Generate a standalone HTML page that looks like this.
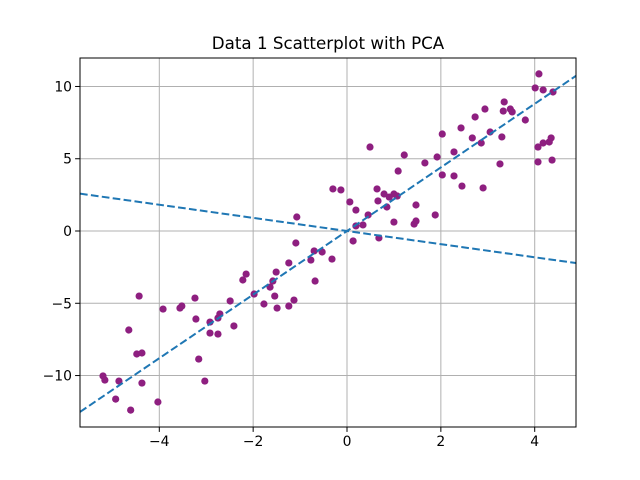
<!DOCTYPE html>
<html><head><meta charset="utf-8"><style>
body{margin:0;background:#fff;}
svg{display:block;font-family:"DejaVu Sans","Liberation Sans",sans-serif;}
</style></head><body>
<svg id="chart" width="640" height="480" viewBox="0 0 640 480">
<defs><clipPath id="clip"><rect x="80" y="58" width="496" height="369"/></clipPath></defs>
<rect x="0" y="0" width="640" height="480" fill="#fff"/>
<text x="328" y="49" text-anchor="middle" font-size="16.7" fill="#000">Data 1 Scatterplot with PCA</text>
<g id="grid"></g>
<g id="marks" clip-path="url(#clip)"></g>
<g id="lines" clip-path="url(#clip)"></g>
<rect x="80" y="58" width="496" height="369" fill="none" stroke="#000" stroke-width="1"/>
<g id="ticks"></g>
</svg>
<script>
const xs=[-5.20,-5.16,-4.86,-4.93,-4.61,-4.37,-4.65,-4.43,-4.48,-4.37,-4.03,-3.92,-3.56,-3.52,-3.24,-3.22,-3.16,-3.03,-2.92,-2.92,-2.75,-2.75,-2.71,-2.49,-2.41,-2.22,-2.15,-1.98,-1.77,-1.64,-1.58,-1.51,-1.54,-1.49,-1.24,-1.24,-1.13,-1.09,-1.07,-0.77,-0.70,-0.68,-0.53,-0.32,-0.30,-0.13,0.06,0.19,0.13,0.19,0.34,0.45,0.49,0.64,0.66,0.68,0.79,0.85,0.90,1.00,1.07,1.00,1.09,1.22,1.43,1.47,1.47,1.66,1.88,1.92,2.03,2.03,2.28,2.28,2.45,2.67,2.43,2.73,2.86,2.94,3.05,3.26,3.30,3.33,3.35,3.48,3.52,2.90,3.80,4.01,4.09,4.18,4.39,4.07,4.18,4.31,4.35,4.07,4.37];
const ys=[-10.03,-10.31,-10.38,-11.63,-12.39,-10.52,-6.85,-4.50,-8.51,-8.44,-11.83,-5.40,-5.33,-5.19,-4.64,-6.09,-8.86,-10.38,-6.30,-7.06,-7.13,-6.02,-5.74,-4.84,-6.57,-3.39,-2.98,-4.36,-5.05,-3.88,-3.46,-2.84,-4.50,-5.33,-2.21,-5.19,-4.78,-0.83,0.97,-2.01,-1.38,-3.46,-1.45,-1.94,2.91,2.84,2.01,1.45,-0.69,0.35,0.42,1.11,5.81,2.91,2.08,-0.48,2.56,1.66,2.35,2.56,2.42,0.62,4.15,5.26,0.48,0.69,1.80,4.71,1.11,5.12,3.88,6.71,5.47,3.81,3.11,6.44,7.13,7.89,6.09,8.44,6.85,4.64,6.51,8.30,8.93,8.44,8.24,2.98,7.68,9.90,10.87,9.76,9.62,5.81,6.09,6.16,6.44,4.78,4.91];
const pcSlopes=[2.2,-0.4545];
const xTicks=[-4,-2,0,2,4];
const yTicks=[-10,-5,0,5,10];
const xMin=-5.69,xMax=4.88,yMin=-13.56,yMax=11.97;
const L=80,R=576,T=58,B=427;
function sx(v){return L+(v-xMin)/(xMax-xMin)*(R-L);}
function sy(v){return B-(v-yMin)/(yMax-yMin)*(B-T);}
const NS='http://www.w3.org/2000/svg';
function mk(tag,attrs,parent){const e=document.createElementNS(NS,tag);for(const k in attrs)e.setAttribute(k,attrs[k]);parent.appendChild(e);return e;}
const grid=document.getElementById('grid'),ticks=document.getElementById('ticks'),marks=document.getElementById('marks'),lines=document.getElementById('lines');
xTicks.forEach(t=>{const x=sx(t);
 const g=mk('line',{x1:x,x2:x,y1:T,y2:B,stroke:'#b0b0b0','stroke-width':1},grid);
 
 
 const tk=mk('line',{x1:x,x2:x,y1:B,y2:B+4.9,stroke:'#000','stroke-width':1},ticks);
 
 
 const tx=mk('text',{x:x,y:B+19,'text-anchor':'middle','font-size':13.9,fill:'#000'},ticks);
 tx.textContent=(t<0?'\u2212'+(-t):String(t));
 
 
});
yTicks.forEach(t=>{const y=sy(t);
 const g=mk('line',{x1:L,x2:R,y1:y,y2:y,stroke:'#b0b0b0','stroke-width':1},grid);
 
 
 const tk=mk('line',{x1:L-4.9,x2:L,y1:y,y2:y,stroke:'#000','stroke-width':1},ticks);
 
 
 const tx=mk('text',{x:L-8,y:y+5,'text-anchor':'end','font-size':13.9,fill:'#000'},ticks);
 tx.textContent=(t<0?'\u2212'+(-t):String(t));
 
 
});
xs.forEach((x,i)=>{
 const c=mk('circle',{cx:sx(x),cy:sy(ys[i]),r:3.6,fill:'#8e1f80'},marks);
 
 
});
pcSlopes.forEach((m,i)=>{
 const ln=mk('line',{x1:sx(xMin),y1:sy(m*xMin),x2:sx(xMax),y2:sy(m*xMax),stroke:'#1f77b4','stroke-width':2,'stroke-dasharray':'7.7,3.3'},lines);
 
 
});
</script>
</body></html>
